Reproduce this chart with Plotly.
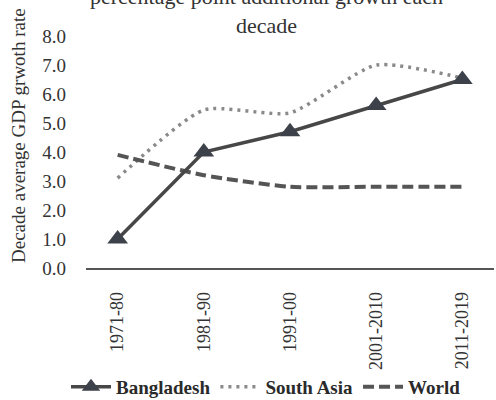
import plotly.graph_objects as go

decades = ["1971-80", "1981-90", "1991-00", "2001-2010", "2011-2019"]
bangladesh = [1.0, 4.0, 4.7, 5.6, 6.5]
south_asia = [3.1, 5.45, 5.35, 7.0, 6.55]
world = [3.9, 3.2, 2.8, 2.8, 2.8]
y_ticks = [0, 1, 2, 3, 4, 5, 6, 7, 8]
y_ticktext = [f"{v:.1f}" for v in y_ticks]

FONT = "Liberation Serif"
L, R, T, B = 86, 2, 36, 132
PW = 496 - L - R
PH = 400 - T - B

fig = go.Figure()
fig.add_trace(go.Scatter(
    x=decades, y=south_asia, name="South Asia", mode="lines",
    line=dict(color="#8a8a8a", width=3.5, dash="3px,5px", shape="spline", smoothing=0.6),
    legendrank=2,
))
fig.add_trace(go.Scatter(
    x=decades, y=world, name="World", mode="lines",
    line=dict(color="#555555", width=4, dash="11px,5px", shape="spline", smoothing=0.6),
    legendrank=3,
))
fig.add_trace(go.Scatter(
    x=decades, y=bangladesh, name="Bangladesh", mode="lines+markers",
    line=dict(color="#474747", width=3.5),
    marker=dict(symbol="triangle-up", size=18, color="#3d414a"),
    legendrank=1,
))

fig.update_layout(
    width=496, height=400,
    margin=dict(l=L, r=R, t=T, b=B, autoexpand=False),
    paper_bgcolor="white", plot_bgcolor="white",
    font=dict(family=FONT, color="#333333", size=19),
    showlegend=True,
    legend=dict(
        orientation="h", x=(266 - L) / PW, xanchor="center",
        yref="paper", y=(268 - 387) / PH, yanchor="middle",
        bgcolor="rgba(0,0,0,0)",
        font=dict(family=FONT, size=19, color="#2a2a2a", weight="bold"),
        itemwidth=40,
    ),
    xaxis=dict(
        type="category", categoryorder="array", categoryarray=decades,
        showgrid=False, showline=True, linecolor="#555555", linewidth=1.5,
        tickangle=-90, ticks="", ticklabelstandoff=15, automargin=False,
        tickfont=dict(family=FONT, size=18, color="#333333"),
        zeroline=False,
    ),
    yaxis=dict(
        range=[0, 8], tickvals=y_ticks, ticktext=y_ticktext,
        showgrid=False, showline=False, zeroline=False, automargin=False,
        ticks="", ticklabelstandoff=19,
        tickfont=dict(family=FONT, size=19, color="#333333"),
    ),
    annotations=[
        dict(
            text="Decade average GDP grwoth rate", textangle=-90,
            xref="paper", yref="paper", x=(18 - L) / PW, y=(268 - 136) / PH,
            xanchor="center", yanchor="middle", showarrow=False,
            font=dict(family=FONT, size=19, color="#333333"),
        ),
        dict(
            text="percentage point additional growth each<br>decade",
            xref="paper", yref="paper", x=(266 - L) / PW, y=1 - 4 / PH,
            xanchor="center", yanchor="bottom", showarrow=False,
            font=dict(family=FONT, size=22, color="#333333"),
        ),
    ],
)

fig.write_html("out.html")
